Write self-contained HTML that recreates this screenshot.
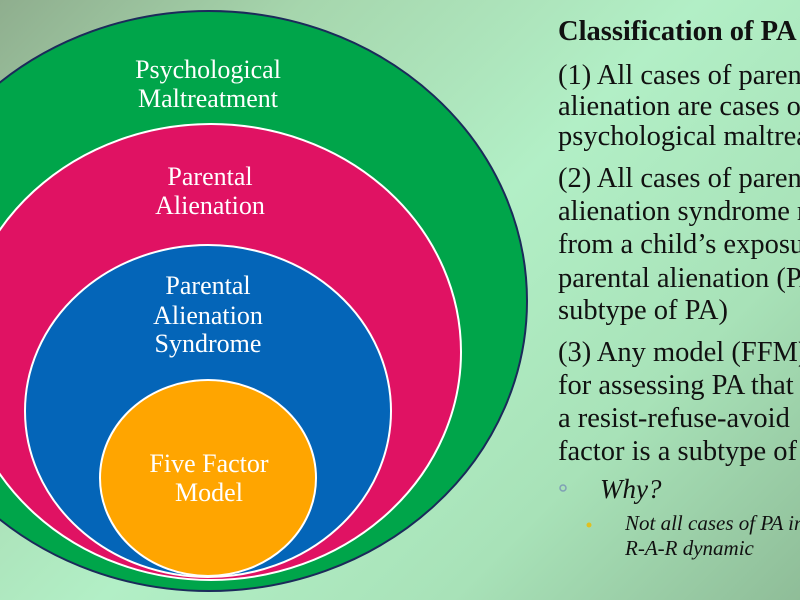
<!DOCTYPE html>
<html><head><style>
html,body{margin:0;padding:0;}
body{width:800px;height:600px;overflow:hidden;position:relative;
background:linear-gradient(135deg,#8fae8e 0%,#a6d6ad 22%,#b2efc6 50%,#a8e2b8 75%,#8fbd98 100%);
font-family:"Liberation Serif",serif;}
svg{position:absolute;left:0;top:0;}
.t{position:absolute;left:558px;font-size:28.5px;color:#111;white-space:nowrap;line-height:30px;overflow:hidden;width:242px;}
</style></head><body>
<svg width="800" height="600" viewBox="0 0 800 600">
<ellipse cx="209" cy="301" rx="318" ry="290" fill="#00a54a" stroke="#1b2a5a" stroke-width="2"/>
<ellipse cx="211" cy="352" rx="250" ry="228" fill="#e01263" stroke="#fff" stroke-width="2"/>
<ellipse cx="208" cy="411" rx="183" ry="166" fill="#0465b8" stroke="#fff" stroke-width="2"/>
<ellipse cx="208" cy="478" rx="108" ry="98" fill="#ffa500" stroke="#fff" stroke-width="2"/>
<g fill="#fff" font-family="Liberation Serif, serif" font-size="26" text-anchor="middle">
<text x="208" y="78">Psychological</text>
<text x="208" y="107">Maltreatment</text>
<text x="210" y="185">Parental</text>
<text x="210" y="214">Alienation</text>
<text x="208" y="294">Parental</text>
<text x="208" y="324">Alienation</text>
<text x="208" y="352">Syndrome</text>
<text x="209" y="472">Five Factor</text>
<text x="209" y="501">Model</text>
</g>
<circle cx="563" cy="488" r="3" fill="none" stroke="#7f9fb5" stroke-width="1.5"/>
<circle cx="589" cy="525" r="2.5" fill="#e0c020"/>
</svg>
<div class="t" style="top:17px;font-weight:bold;">Classification of PA</div>
<div class="t" style="top:61px;">(1) All cases of parental</div>
<div class="t" style="top:92px;">alienation are cases of</div>
<div class="t" style="top:122px;">psychological maltreatment</div>
<div class="t" style="top:164px;">(2) All cases of parental</div>
<div class="t" style="top:197px;">alienation syndrome result</div>
<div class="t" style="top:230px;">from a child’s exposure to</div>
<div class="t" style="top:264px;">parental alienation (PAS is a</div>
<div class="t" style="top:296px;">subtype of PA)</div>
<div class="t" style="top:338px;">(3) Any model (FFM)</div>
<div class="t" style="top:371px;">for assessing PA that uses</div>
<div class="t" style="top:404px;">a resist-refuse-avoid</div>
<div class="t" style="top:437px;">factor is a subtype of PA</div>
<div class="t" style="top:474px;left:600px;width:200px;font-style:italic;font-size:27px;">Why?</div>
<div class="t" style="top:511px;left:625px;width:175px;font-style:italic;font-size:21px;line-height:25px;">Not all cases of PA involve a<br>R-A-R dynamic</div>
</body></html>
